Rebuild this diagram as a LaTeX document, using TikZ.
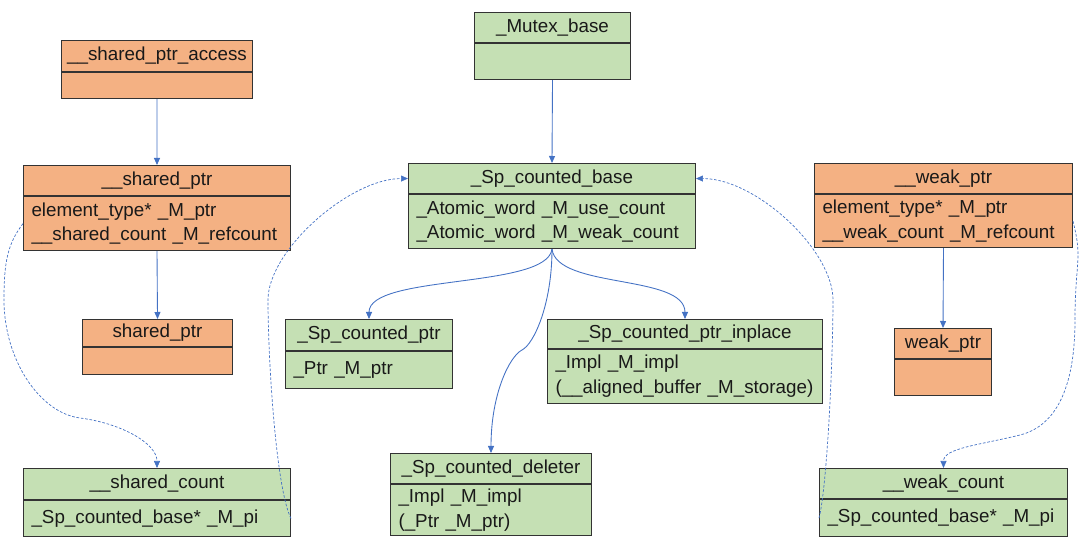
\documentclass[tikz,border=0pt]{standalone}
\usepackage{fontspec}
\setmainfont{Liberation Sans}
\usepackage{tikz}
\usetikzlibrary{arrows.meta}
\usetikzlibrary{calc}
\usepackage{color}
\definecolor{orng}{HTML}{F4B183}
\definecolor{grn}{HTML}{C5E0B4}
\definecolor{lnk}{HTML}{4472C4}
\hyphenpenalty=10000
\exhyphenpenalty=10000

\begin{document}
\begin{tikzpicture}[x=0.02cm,y=-0.02cm,
    font=\fontsize{10.7}{14.2}\selectfont,
    hd/.style={draw=black!80,line width=0.6pt,anchor=north west,inner sep=0pt,text=black!90},
    bd/.style={draw=black!80,line width=0.6pt,anchor=north west,inner ysep=0pt,inner xsep=0.16cm,align=left,text=black!90},
    inh/.style={draw=lnk,line width=0.5pt,-{Triangle[length=0.14cm,width=0.12cm]}},
    dep/.style={draw=lnk,line width=0.4pt,dash pattern=on 1.5pt off 1pt,-{Triangle[length=0.14cm,width=0.12cm]}}]

    \useasboundingbox (0,0) rectangle (1080,553);

    % shared side
    \node[hd,fill=orng,minimum width=3.82cm,minimum height=0.62cm] (spa) at (61,40) {\_\_shared\_ptr\_access};
    \node[bd,fill=orng,text width=3.5cm,minimum height=0.52cm] (spa-b) at (spa.south west) {};

    \node[hd,fill=orng,minimum width=5.34cm,minimum height=0.6cm] (sptr) at (23,165) {\_\_shared\_ptr};
    \node[bd,fill=orng,text width=5.02cm,minimum height=1.08cm] (sptr-b) at (sptr.south west)
        {element\_type*~\_M\_ptr\\\_\_shared\_count~\_M\_refcount};

    \node[hd,fill=orng,minimum width=3cm,minimum height=0.54cm] (shp) at (82,319) {shared\_ptr};
    \node[bd,fill=orng,text width=2.68cm,minimum height=0.54cm] (shp-b) at (shp.south west) {};

    \node[hd,fill=grn,minimum width=5.34cm,minimum height=0.62cm] (shc) at (23,468) {\_\_shared\_count};
    \node[bd,fill=grn,text width=5.02cm,minimum height=0.72cm] (shc-b) at (shc.south west)
        {\_Sp\_counted\_base*~\_M\_pi};

    % counted base and children
    \node[hd,fill=grn,minimum width=3.12cm,minimum height=0.6cm] (mtx) at (474,12) {\_Mutex\_base};
    \node[bd,fill=grn,text width=2.8cm,minimum height=0.72cm] (mtx-b) at (mtx.south west) {};

    \node[hd,fill=grn,minimum width=5.74cm,minimum height=0.6cm] (scb) at (408,163) {\_Sp\_counted\_base};
    \node[bd,fill=grn,text width=5.42cm,minimum height=1.08cm] (scb-b) at (scb.south west)
        {\_Atomic\_word~\_M\_use\_count\\\_Atomic\_word~\_M\_weak\_count};

    \node[hd,fill=grn,minimum width=3.34cm,minimum height=0.62cm] (scp) at (285,319) {\_Sp\_counted\_ptr};
    \node[bd,fill=grn,text width=3.02cm,minimum height=0.74cm] (scp-b) at (scp.south west) {\_Ptr~\_M\_ptr};

    \node[hd,fill=grn,minimum width=5.5cm,minimum height=0.58cm] (sci) at (547,319) {\_Sp\_counted\_ptr\_inplace};
    \node[bd,fill=grn,text width=5.18cm,minimum height=1.08cm] (sci-b) at (sci.south west)
        {\_Impl~\_M\_impl\\(\_\_aligned\_buffer~\_M\_storage)};

    \node[hd,fill=grn,minimum width=4.02cm,minimum height=0.6cm] (scd) at (390,453) {\_Sp\_counted\_deleter};
    \node[bd,fill=grn,text width=3.7cm,minimum height=1.02cm] (scd-b) at (scd.south west)
        {\_Impl~\_M\_impl\\(\_Ptr~\_M\_ptr)};

    % weak side
    \node[hd,fill=orng,minimum width=5.16cm,minimum height=0.6cm] (wptr) at (814,163) {\_\_weak\_ptr};
    \node[bd,fill=orng,text width=4.84cm,minimum height=1.06cm] (wptr-b) at (wptr.south west)
        {element\_type*~\_M\_ptr\\\_\_weak\_count~\_M\_refcount};

    \node[hd,fill=orng,minimum width=1.94cm,minimum height=0.6cm] (wkp) at (894,328) {weak\_ptr};
    \node[bd,fill=orng,text width=1.62cm,minimum height=0.72cm] (wkp-b) at (wkp.south west) {};

    \node[hd,fill=grn,minimum width=4.96cm,minimum height=0.6cm] (wkc) at (819,468) {\_\_weak\_count};
    \node[bd,fill=grn,text width=4.64cm,minimum height=0.74cm] (wkc-b) at (wkc.south west)
        {\_Sp\_counted\_base*~\_M\_pi};

    % bend points
    \coordinate (bend) at (522,350);
    \coordinate (l1) at (4,300);
    \coordinate (l2) at (80,418);
    \coordinate (l3) at (268,300);
    \coordinate (r1) at (1075,320);
    \coordinate (r2) at (1020,435);
    \coordinate (r3) at (833,300);

    % inheritance
    \draw[inh] (spa-b.south) -- (sptr.north);
    \draw[inh] (sptr-b.south) -- (shp.north);
    \draw[inh] (mtx-b.south) -- (scb.north);
    \draw[inh] (wptr-b.south) -- (wkp.north);
    \draw[inh] (scb-b.south) .. controls +(-5,40) and +(0,-45) .. (scp.north);
    \draw[inh] (scb-b.south) .. controls +(5,40) and +(0,-45) .. (sci.north);
    \draw[inh] (scb-b.south) .. controls +(0,55) and +(12,-6) .. (bend)
        .. controls +(-12,6) and +(0,-60) .. (scd.north);

    % references
    \draw[dep] (sptr-b.west) .. controls +(-15,20) and +(0,-40) .. (l1)
        .. controls +(0,60) and +(-40,-5) .. (l2) .. controls +(40,5) and +(0,-25) .. (shc.north);
    \draw[dep] (shc-b.east) .. controls +(-15,-30) and +(0,60) .. (l3)
        .. controls +(0,-50) and +(-58,0) .. (scb.west);
    \draw[dep] (wkc-b.west) .. controls +(8,-30) and +(0,60) .. (r3)
        .. controls +(0,-50) and +(60,0) .. (scb.east);
    \draw[dep] (wptr-b.east) .. controls +(10,40) and +(0,-60) .. (r1)
        .. controls +(0,60) and +(40,-10) .. (r2) .. controls +(-40,10) and +(0,-20) .. (wkc.north);

\end{tikzpicture}
\end{document}
